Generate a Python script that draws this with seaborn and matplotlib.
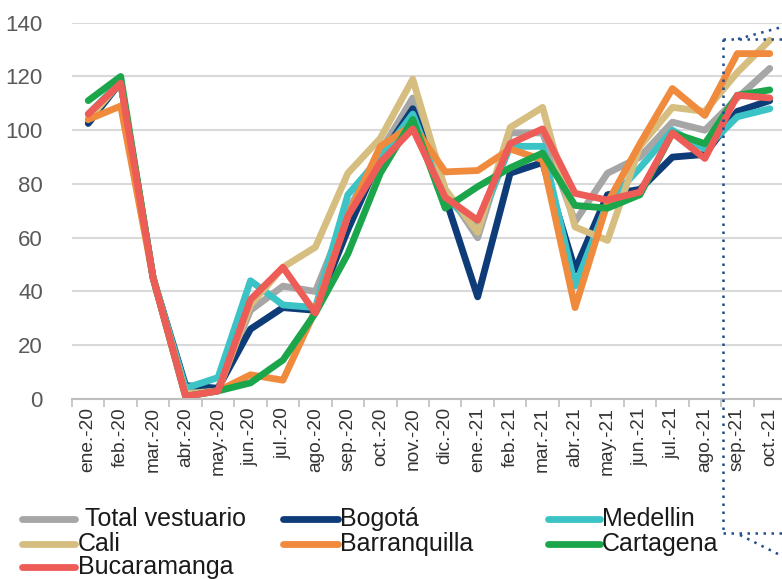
import numpy as np
import pandas as pd
import matplotlib
matplotlib.use("Agg")
import matplotlib.pyplot as plt
import seaborn as sns
from matplotlib.lines import Line2D

months = ['ene.-20', 'feb.-20', 'mar.-20', 'abr.-20', 'may.-20', 'jun.-20', 'jul.-20',
          'ago.-20', 'sep.-20', 'oct.-20', 'nov.-20', 'dic.-20', 'ene.-21', 'feb.-21',
          'mar.-21', 'abr.-21', 'may.-21', 'jun.-21', 'jul.-21', 'ago.-21', 'sep.-21', 'oct.-21']

total_vestuario = [103, 118, 45, 3, 4, 33, 42, 40, 70, 92, 112, 78, 60, 99, 99, 66, 84, 90, 103, 100, 112, 123]
bogota = [102.5, 118, 45, 5, 4, 26, 34, 33, 63, 90, 108, 75, 38, 84, 88, 48, 76, 78, 90, 91, 107, 111]
medellin = [106, 118, 45, 4, 8, 44, 35, 34, 76, 90, 106, 75, 64, 94, 94, 42, 73, 86, 100, 93, 105, 108]
cali = [104, 118, 45, 2, 3, 35, 49, 56.5, 84, 97, 119, 78, 62, 101, 108.5, 64, 59, 94, 108.5, 107, 121.5, 133.5]
barranquilla = [104, 109, 45, 1, 3, 9, 7, 33, 68, 94, 102, 84.5, 85, 93, 89, 34, 73, 95, 115.5, 105.5, 128.5, 128.5]
cartagena = [111, 120, 45, 1, 3, 6, 14.5, 32, 54, 84, 104, 71, 79, 86, 91.5, 72, 71, 76, 99, 95, 113, 115]
bucaramanga = [106, 117.5, 45, 1, 3, 37, 49, 32, 68, 88, 100.5, 75, 66.5, 95, 100.5, 76.5, 74, 77, 99, 89.5, 113, 112]

series_names = ['Total vestuario', 'Bogotá', 'Medellin', 'Cali', 'Barranquilla', 'Cartagena', 'Bucaramanga']
series_values = [total_vestuario, bogota, medellin, cali, barranquilla, cartagena, bucaramanga]
colors = ['#A6A6A6', '#0E3C78', '#3CC3C6', '#D6BE80', '#F08A3C', '#1CA64C', '#EE5C58']

rows = []
for name, vals in zip(series_names, series_values):
    for i, v in enumerate(vals):
        rows.append({'idx': i, 'mes': months[i], 'serie': name, 'valor': v})
df = pd.DataFrame(rows)

sns.set_theme(style='white')
plt.rcParams['font.family'] = ['Liberation Sans', 'DejaVu Sans']

W, H = 782, 579
fig = plt.figure(figsize=(W / 100, H / 100), dpi=100)
ax_left, ax_right, ax_top, ax_bot = 72, 786, 22.7, 399
ax = fig.add_axes([ax_left / W, (H - ax_bot) / H, (ax_right - ax_left) / W, (ax_bot - ax_top) / H])

LW = 4.9
sns.lineplot(data=df, x='idx', y='valor', hue='serie', hue_order=series_names,
             palette=dict(zip(series_names, colors)), linewidth=LW, sort=False,
             legend=False, ax=ax)
for ln in ax.lines:
    ln.set_solid_joinstyle('round')
    ln.set_solid_capstyle('round')

ax.set_xlim(-0.5, 21.5)
ax.set_ylim(0, 140)
ax.set_yticks(range(0, 141, 20))
ax.yaxis.grid(True, color='#D9D9D9', linewidth=1.5)
ax.xaxis.grid(False)
ax.set_axisbelow(True)
ax.set_xlabel('')
ax.set_ylabel('')

ax.set_xticks(range(len(months)))
ax.set_xticklabels(months, rotation=90, fontsize=13.8, color='#333333')
ax.set_xticks(np.arange(-0.5, len(months), 1), minor=True)
ax.tick_params(axis='x', which='major', length=0, pad=6)
ax.tick_params(axis='x', which='minor', bottom=True, length=6, width=1.2, color='#BFBFBF', direction='out')
ax.tick_params(axis='y', length=0, pad=21, labelsize=16, labelcolor='#595959')

for s in ['left', 'right', 'top']:
    ax.spines[s].set_visible(False)
ax.spines['bottom'].set_color('#BFBFBF')
ax.spines['bottom'].set_linewidth(1.5)


def fx(x):
    return x / W


def fy(y):
    return 1 - y / H


# manual legend
legend_pos = {
    'Total vestuario': (22, 75, 85, 519),
    'Bogotá': (283, 338, 340, 519),
    'Medellin': (548, 600, 602, 519),
    'Cali': (22, 75, 78, 544),
    'Barranquilla': (283, 338, 340, 544),
    'Cartagena': (548, 600, 602, 544),
    'Bucaramanga': (22, 75, 78, 567),
}
for name, col in zip(series_names, colors):
    x0, x1, tx, yy = legend_pos[name]
    fig.add_artist(Line2D([fx(x0), fx(x1)], [fy(yy), fy(yy)], transform=fig.transFigure,
                          color=col, linewidth=LW, solid_capstyle='round'))
    fig.text(fx(tx), fy(yy), name, fontsize=18, color='#1A1A1A', va='center', ha='left')

# dotted callout
dot_col = '#1F4E8C'
segs = [((723, 39), (723, 533)), ((723, 39), (782, 39)), ((738, 39), (782, 27)),
        ((723, 533), (782, 533)), ((740, 535), (782, 556))]
for (xa, ya), (xb, yb) in segs:
    fig.add_artist(Line2D([fx(xa), fx(xb)], [fy(ya), fy(yb)], transform=fig.transFigure,
                          color=dot_col, linewidth=1.8, linestyle=(0, (1, 2.2))))

fig.savefig('out.png', dpi=100)
